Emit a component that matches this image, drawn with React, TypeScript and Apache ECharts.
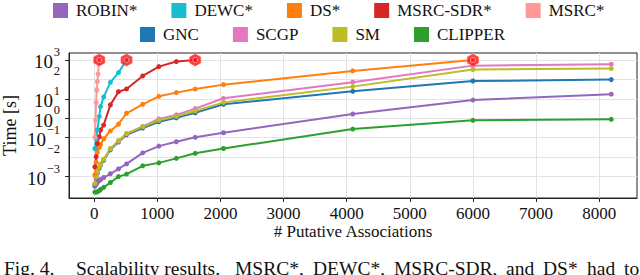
import React, { useEffect, useRef } from "react";
import * as echarts from "echarts";

// ---- data ----
const X_MAIN = [10, 30, 50, 80, 100, 150, 256, 384, 512, 768, 1024, 1300, 1600, 2048, 4096, 6000, 8192];
const X_DS = [10, 30, 50, 80, 100, 150, 256, 384, 512, 768, 1024, 1300, 1600, 2048, 4096, 6000];
const X_MSRC = [10, 20, 30, 40, 50, 60, 80];

const ROBIN = [0.00032, 0.0004, 0.0005, 0.00063, 0.0007, 0.0009, 0.0014, 0.0025, 0.0045, 0.0166, 0.037, 0.062, 0.105, 0.18, 1.66, 8.7, 17.4];
const CLIPPER = [0.00016, 0.00016, 0.000166, 0.00019, 0.00022, 0.00028, 0.0005, 0.001, 0.00135, 0.0036, 0.0051, 0.0087, 0.0158, 0.028, 0.28, 0.79, 0.89];
const GNC = [0.00038, 0.00085, 0.0015, 0.0027, 0.0038, 0.0068, 0.024, 0.06, 0.141, 0.316, 0.66, 1.05, 1.9, 5.25, 24.5, 83, 98];
const SCGP = [0.00042, 0.00093, 0.00166, 0.003, 0.0042, 0.0074, 0.026, 0.066, 0.158, 0.38, 0.93, 1.5, 3.16, 10.7, 72, 513, 603];
const SM = [0.00045, 0.001, 0.00178, 0.00316, 0.00447, 0.0079, 0.028, 0.071, 0.166, 0.37, 0.79, 1.26, 2.4, 6.6, 42.7, 324, 363];
const DS = [0.00126, 0.0056, 0.0178, 0.0316, 0.0447, 0.089, 0.224, 0.5, 1.82, 5.25, 13.5, 21, 32, 54, 275, 1000];
const MSRC_SDR = [0.00316, 0.0105, 0.051, 0.112, 0.25, 0.45, 4.9, 23.4, 32.4, 151, 457, 832, 1000];
const DEWC = [0.028, 0.089, 0.25, 1.26, 4, 12.6, 71, 224, 1000];
const MSRC = [0.105, 0.81, 6.3, 28.8, 77.6, 190, 1000];

const TIMEOUT_X = [80, 512, 1600, 6000];
const TIMEOUT_Y = [1000, 1000, 1000, 1000];

const X_TICKS = [0, 1000, 2000, 3000, 4000, 5000, 6000, 7000, 8000];
const Y_TICKS = [0.001, 0.01, 0.1, 1, 10, 100, 1000];

const LEGEND_ROW1 = ["ROBIN*", "DEWC*", "DS*", "MSRC-SDR*", "MSRC*"];
const LEGEND_ROW2 = ["GNC", "SCGP", "SM", "CLIPPER"];

const CAPTION_WORDS = ["Fig. 4.", "Scalability results.", "MSRC*,", "DEWC*,", "MSRC-SDR,", "and", "DS*", "had", "to"];
const CAPTION_X = [4, 76, 235, 313, 394, 506, 543, 587, 624];

const COLORS: Record<string, string> = {
  "ROBIN*": "#9467bd",
  "DEWC*": "#17becf",
  "DS*": "#ff7f0e",
  "MSRC-SDR*": "#d62728",
  "MSRC*": "#ff9896",
  GNC: "#1f77b4",
  SCGP: "#e377c2",
  SM: "#bcbd22",
  CLIPPER: "#2ca02c",
};

const FONT = "Liberation Serif";
const HEX = "path://M0,-1 L0.866,-0.5 L0.866,0.5 L0,1 L-0.866,0.5 L-0.866,-0.5 Z";
const Y_MIN = Math.pow(10, -4.1);
const Y_MAX = Math.pow(10, 3.36);

function zip(xs: number[], ys: number[]) {
  return ys.map((y, i) => [xs[i], y]);
}

function expText(v: number) {
  const e = Math.round(Math.log10(v));
  return e < 0 ? "\u2212" + Math.abs(e) : String(e);
}

function lineSeries(name: string, xs: number[], ys: number[]) {
  return {
    name,
    type: "line",
    data: zip(xs, ys),
    symbol: "circle",
    symbolSize: 5,
    showSymbol: true,
    lineStyle: { width: 2, color: COLORS[name] },
    itemStyle: { color: COLORS[name] },
    emphasis: { disabled: true },
  };
}

export default function App() {
  const ref = useRef<HTMLDivElement>(null);
  useEffect(() => {
    if (!ref.current) return;
    const chart = echarts.init(ref.current, null, { renderer: "svg" });
    const legendCommon = {
      icon: "rect",
      itemWidth: 15,
      itemHeight: 15,
      itemGap: 34,
      padding: 0,
      textStyle: { fontFamily: FONT, fontSize: 17, color: "#111", padding: [0, 0, 0, 3] },
      selectedMode: false,
    };
    const yCommon = {
      type: "log",
      logBase: 10,
      min: Y_MIN,
      max: Y_MAX,
      position: "left",
    };
    chart.setOption({
      animation: false,
      backgroundColor: "#fff",
      textStyle: { fontFamily: FONT },
      grid: {
        left: 69,
        right: 3,
        top: 53,
        bottom: 77,
        show: true,
        borderColor: "#222",
        borderWidth: 1,
        containLabel: false,
        outerBoundsMode: "none",
      },
      legend: [
        { ...legendCommon, data: LEGEND_ROW1, left: 53, top: 2 },
        { ...legendCommon, data: LEGEND_ROW2, left: 140, top: 26 },
      ],
      xAxis: {
        type: "value",
        min: -400,
        max: 8600,
        name: "# Putative Associations",
        nameLocation: "middle",
        nameGap: 25,
        nameMoveOverlap: false,
        nameTextStyle: { fontFamily: FONT, fontSize: 17, color: "#111" },
        axisLine: { show: true, onZero: false, lineStyle: { color: "#222", width: 1 } },
        axisTick: { show: true, length: 4, lineStyle: { color: "#222" }, customValues: X_TICKS },
        axisLabel: {
          fontFamily: FONT,
          fontSize: 17,
          color: "#111",
          margin: 7,
          customValues: X_TICKS,
          formatter: (v: number) => String(v),
        },
        splitLine: { show: true, lineStyle: { color: "#e3e3e3", width: 1 } },
      },
      yAxis: [
        {
          ...yCommon,
          name: "Time [s]",
          nameLocation: "middle",
          nameGap: 50,
          nameMoveOverlap: false,
          nameTextStyle: { fontFamily: FONT, fontSize: 18, color: "#111" },
          axisLine: { show: true, onZero: false, lineStyle: { color: "#222", width: 1 } },
          axisTick: { show: true, length: 4, lineStyle: { color: "#222" }, customValues: Y_TICKS },
          axisLabel: {
            customValues: Y_TICKS,
            margin: 9,
            hideOverlap: false,
            showMinLabel: true,
            showMaxLabel: true,
            formatter: (v: number) => (Math.log10(v) < -0.5 ? "{b|10}{sn|}" : "{b|10}{sp|}"),
            rich: {
              b: { fontFamily: FONT, fontSize: 19, color: "#111", lineHeight: 15, padding: [4, 0, 0, 0] },
              sp: { width: 7, lineHeight: 15 },
              sn: { width: 14, lineHeight: 15 },
            },
          },
          splitLine: { show: true, lineStyle: { color: "#e3e3e3", width: 1 } },
        },
        {
          ...yCommon,
          axisLine: { show: false, onZero: false },
          axisTick: { show: false },
          splitLine: { show: false },
          axisLabel: {
            customValues: Y_TICKS,
            margin: 9,
            hideOverlap: false,
            showMinLabel: true,
            showMaxLabel: true,
            fontFamily: FONT,
            fontSize: 12.5,
            color: "#111",
            lineHeight: 12,
            verticalAlign: "bottom",
            padding: [0, 0, 2, 0],
            formatter: (v: number) => expText(v),
          },
        },
      ],
      series: [
        lineSeries("ROBIN*", X_MAIN, ROBIN),
        lineSeries("CLIPPER", X_MAIN, CLIPPER),
        lineSeries("GNC", X_MAIN, GNC),
        lineSeries("SCGP", X_MAIN, SCGP),
        lineSeries("SM", X_MAIN, SM),
        lineSeries("DS*", X_DS, DS),
        lineSeries("MSRC-SDR*", X_MAIN, MSRC_SDR),
        lineSeries("DEWC*", X_MAIN, DEWC),
        lineSeries("MSRC*", X_MSRC, MSRC),
        {
          name: "timeout",
          type: "scatter",
          data: zip(TIMEOUT_X, TIMEOUT_Y),
          symbol: HEX,
          symbolSize: [11, 12],
          itemStyle: { color: "#ff1010", borderColor: "#ff5050", borderWidth: 0.8 },
          z: 5,
          emphasis: { disabled: true },
        },
        {
          name: "timeout-ring",
          type: "scatter",
          data: zip(TIMEOUT_X, TIMEOUT_Y),
          symbol: "circle",
          symbolSize: 5,
          itemStyle: { color: "transparent", borderColor: "#ffb0b0", borderWidth: 1 },
          z: 6,
          emphasis: { disabled: true },
        },
      ],
      graphic: CAPTION_WORDS.map((w, i) => ({
        type: "text",
        x: CAPTION_X[i],
        y: 258,
        style: { text: w, font: `19.5px ${FONT}`, fill: "#111" },
      })),
    });
    return () => chart.dispose();
  }, []);
  return <div ref={ref} style={{ width: 640, height: 275, position: "absolute", left: 0, top: 0 }} />;
}
